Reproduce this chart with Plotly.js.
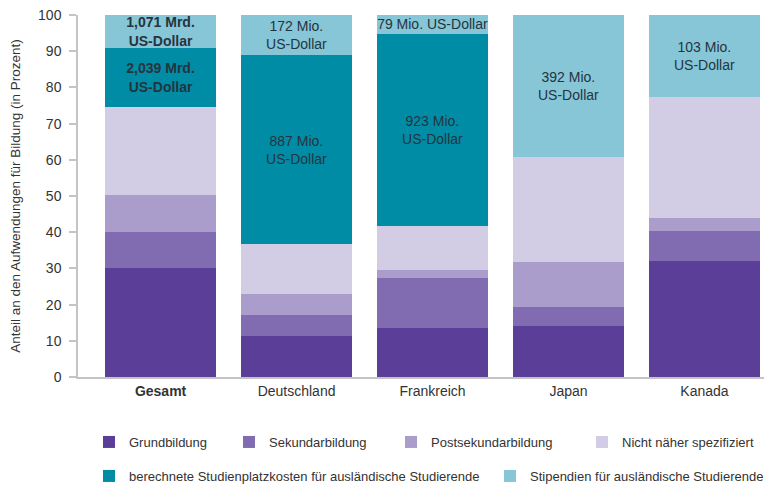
<!DOCTYPE html>
<html>
<head>
<meta charset="utf-8">
<script src="https://cdn.plot.ly/plotly-3.0.1.min.js"></script>
<style>html,body{margin:0;padding:0;background:#fff;}#chart{width:764px;height:486px;}</style>
</head>
<body>
<div id="chart"></div>
<script>
// ---- data ----
var categories = ["Gesamt", "Deutschland", "Frankreich", "Japan", "Kanada"];
var tickLabels = ["<b>Gesamt</b>", "Deutschland", "Frankreich", "Japan", "Kanada"];
var seriesNames = ["Grundbildung", "Sekundarbildung", "Postsekundarbildung", "Nicht näher spezifiziert",
  "berechnete Studienplatzkosten für ausländische Studierende", "Stipendien für ausländische Studierende"];
var grundbildung = [30.0, 11.3, 13.5, 14.1, 32.0];
var sekundarbildung = [10.0, 5.8, 13.8, 5.2, 8.3];
var postsekundarbildung = [10.3, 5.8, 2.3, 12.5, 3.6];
var nichtSpezifiziert = [24.3, 13.8, 12.1, 29.0, 33.4];
var studienplatzkosten = [16.3, 52.2, 53.1, 0, 0];
var stipendien = [9.1, 11.1, 5.2, 39.2, 22.7];
var studienplatzLabels = ["<b>2,039 Mrd.<br>US-Dollar</b>", "887 Mio.<br>US-Dollar", "923 Mio.<br>US-Dollar", "", ""];
var stipendienLabels = ["<b>1,071 Mrd.<br>US-Dollar</b>", "172 Mio.<br>US-Dollar", "79 Mio. US-Dollar", "392 Mio.<br>US-Dollar", "103 Mio.<br>US-Dollar"];
var yTicks = [0, 10, 20, 30, 40, 50, 60, 70, 80, 90, 100];

// ---- styles ----
var FONT = "Liberation Sans, Arial, sans-serif";
var colors = ["#5a3e97", "#816bb1", "#aa9dcb", "#d2cce4", "#008ca5", "#86c6d6"];
var seriesValues = [grundbildung, sekundarbildung, postsekundarbildung, nichtSpezifiziert, studienplatzkosten, stipendien];
var seriesText = [null, null, null, null, studienplatzLabels, stipendienLabels];
var legendIds = ["legend", "legend2", "legend3", "legend4", "legend5", "legend6"];
// legend box left edges (px) and row centres (px)
var legendPx = [[89, 442], [229, 442], [391, 442], [582, 442], [89, 476], [490, 476]];

var traces = seriesValues.map(function (vals, i) {
  var t = {
    type: "bar",
    name: seriesNames[i],
    x: categories,
    y: vals,
    marker: {color: colors[i], line: {width: 0}},
    legend: legendIds[i],
    hoverinfo: "name+y"
  };
  if (seriesText[i]) {
    t.text = seriesText[i];
    t.textposition = "inside";
    t.insidetextanchor = "middle";
    t.textangle = 0;
    t.constraintext = "none";
    t.insidetextfont = {family: FONT, size: 14, color: "#25343f"};
    t.texttemplate = "%{text}";
  } else {
    t.textposition = "none";
  }
  return t;
});

var W = 764, H = 486;
var layout = {
  width: W,
  height: H,
  margin: {l: 78, r: 0, t: 15, b: 109},
  paper_bgcolor: "#ffffff",
  plot_bgcolor: "#ffffff",
  barmode: "stack",
  bargap: 0.184,
  font: {family: FONT, size: 14, color: "#333333"},
  showlegend: true,
  xaxis: {
    type: "category",
    range: [-0.607, 4.4375],
    tickvals: categories,
    ticktext: tickLabels,
    showline: true,
    linecolor: "#c4c4c4",
    linewidth: 1.5,
    ticks: "",
    showgrid: false,
    zeroline: false,
    tickfont: {family: FONT, size: 14, color: "#333333"},
    fixedrange: true
  },
  yaxis: {
    range: [0, 100],
    tickvals: yTicks,
    showline: true,
    linecolor: "#c4c4c4",
    linewidth: 1.5,
    ticks: "outside",
    ticklen: 7,
    tickcolor: "#c4c4c4",
    tickwidth: 1.5,
    ticklabelstandoff: 5,
    showgrid: false,
    zeroline: false,
    tickfont: {family: FONT, size: 14, color: "#333333"},
    title: {text: "Anteil an den Aufwendungen für Bildung (in Prozent)", font: {family: FONT, size: 13.5, color: "#333333"}, standoff: 14},
    fixedrange: true
  }
};
legendIds.forEach(function (id, i) {
  layout[id] = {
    orientation: "h",
    xref: "container",
    yref: "container",
    x: legendPx[i][0] / W,
    y: 1 - legendPx[i][1] / H,
    xanchor: "left",
    yanchor: "middle",
    bgcolor: "rgba(0,0,0,0)",
    borderwidth: 0,
    font: {family: FONT, size: 13, color: "#333333"}
  };
});

Plotly.newPlot("chart", traces, layout, {displayModeBar: false});
</script>
</body>
</html>
